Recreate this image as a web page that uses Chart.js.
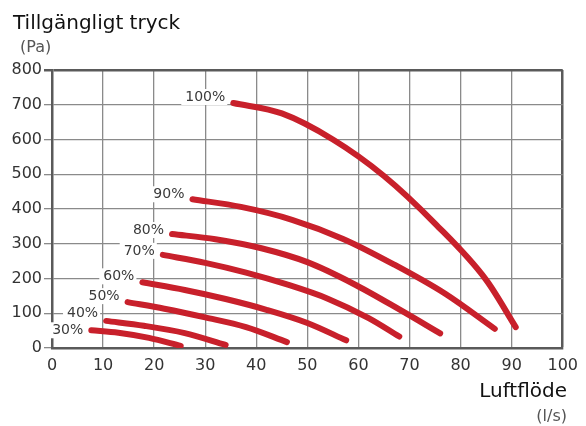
<!DOCTYPE html>
<html>
<head>
<meta charset="utf-8">
<script src="https://cdn.jsdelivr.net/npm/chart.js@4"></script>
<style>
  html, body { margin: 0; padding: 0; background: #fff; }
  #wrap { width: 586px; height: 426px; }
</style>
</head>
<body>
<div id="wrap"><canvas id="chart" width="586" height="426"></canvas></div>
<script>
// Kurvor: luftflöde (l/s) och tillgängligt tryck (Pa) per fläkthastighet
const speedLabels = ["30%", "40%", "50%", "60%", "70%", "80%", "90%", "100%"];

const flow30 = [7.7, 13, 19, 25.2];
const pres30 = [51, 44, 29, 6];
const flow40 = [10.6, 18, 26, 34];
const pres40 = [78, 64, 43, 9];
const flow50 = [14.8, 22, 30, 38, 46];
const pres50 = [132, 113, 88, 60, 17];
const flow60 = [17.7, 26, 34, 42, 50, 57.6];
const pres60 = [189, 167, 141, 110, 72, 22];
const flow70 = [21.7, 30, 38, 46, 54, 62, 68];
const pres70 = [268, 245, 217, 183, 142, 86, 33];
const flow80 = [23.5, 32, 41, 50, 59, 68, 76];
const pres80 = [328, 313, 287, 247, 185, 111, 42];
const flow90 = [27.5, 37, 47, 57, 67, 77, 86.7];
const pres90 = [428, 406, 369, 314, 240, 156, 55];
const flow100 = [35.5, 45, 55, 65, 75, 85, 90.8];
const pres100 = [705, 675, 600, 495, 358, 196, 60];

const xTicks = [0, 10, 20, 30, 40, 50, 60, 70, 80, 90, 100];
const yTicks = [0, 100, 200, 300, 400, 500, 600, 700, 800];

const flows = [flow30, flow40, flow50, flow60, flow70, flow80, flow90, flow100];
const pressures = [pres30, pres40, pres50, pres60, pres70, pres80, pres90, pres100];

// förskjutning av etiketten i höjdled (px)
const labelLift = [0, 8, 6, 6, 4, 4, 5, 6];

const FONT = "'DejaVu Sans', sans-serif";
const RED = "#c8202b";

const datasets = speedLabels.map((lbl, i) => ({
  label: lbl,
  data: flows[i].map((x, j) => ({ x: x, y: pressures[i][j] })),
  borderColor: RED,
  borderWidth: 6,
  borderCapStyle: "round",
  borderJoinStyle: "round",
  cubicInterpolationMode: "monotone",
  pointRadius: 0,
  fill: false,
}));

// Etiketter vid kurvornas början samt axeltitlar
const curveLabels = {
  id: "curveLabels",
  afterDatasetsDraw(chart) {
    const ctx = chart.ctx;
    ctx.save();
    ctx.font = "14px " + FONT;
    ctx.textAlign = "right";
    ctx.textBaseline = "middle";
    chart.data.datasets.forEach((ds, i) => {
      const pt = chart.getDatasetMeta(i).data[0];
      const tx = pt.x - 8;
      const ty = pt.y - labelLift[i];
      const w = ctx.measureText(ds.label).width;
      ctx.fillStyle = "#fff";
      ctx.fillRect(tx - w - 4, ty - 8, w + 6, 16);
      ctx.fillStyle = "#3a3a3a";
      ctx.fillText(ds.label, tx, ty);
    });
    ctx.restore();
  },
  afterDraw(chart) {
    const ctx = chart.ctx;
    ctx.save();
    ctx.textBaseline = "alphabetic";
    ctx.fillStyle = "#111";
    ctx.font = "20px " + FONT;
    ctx.textAlign = "left";
    ctx.fillText("Tillgängligt tryck", 13, 29);
    ctx.fillStyle = "#555";
    ctx.font = "16px " + FONT;
    ctx.fillText("(Pa)", 20, 52);
    ctx.fillStyle = "#111";
    ctx.font = "20px " + FONT;
    ctx.textAlign = "right";
    ctx.fillText("Luftflöde", 567, 397);
    ctx.fillStyle = "#555";
    ctx.font = "16px " + FONT;
    ctx.fillText("(l/s)", 567, 421);
    ctx.restore();
  },
};

new Chart(document.getElementById("chart"), {
  type: "line",
  data: { datasets: datasets },
  options: {
    responsive: false,
    animation: false,
    layout: { padding: { top: 70, right: 20, left: 0, bottom: 0 } },
    plugins: { legend: { display: false }, tooltip: { enabled: false } },
    scales: {
      x: {
        type: "linear",
        min: 0,
        max: 100,
        afterBuildTicks: (s) => { s.ticks = xTicks.map((v) => ({ value: v })); },
        afterFit: (s) => { s.height = 78; },
        grid: {
          color: (c) => (c.tick && c.tick.value === 100 ? "#5a5a5a" : "#8a8a8a"),
          lineWidth: (c) => (c.tick && c.tick.value === 100 ? 2.5 : 1.3),
          drawTicks: false,
          tickLength: 0,
        },
        border: { display: true, color: "#5a5a5a", width: 2.5 },
        ticks: { padding: 8, color: "#333", font: { family: FONT, size: 16 } },
      },
      y: {
        type: "linear",
        min: 0,
        max: 800,
        afterBuildTicks: (s) => { s.ticks = yTicks.map((v) => ({ value: v })); },
        afterFit: (s) => { s.width = 52; },
        grid: {
          color: (c) => (c.tick && c.tick.value === 800 ? "#5a5a5a" : "#8a8a8a"),
          lineWidth: (c) => (c.tick && c.tick.value === 800 ? 2.5 : 1.3),
          drawTicks: true,
          tickLength: 8,
        },
        border: { display: true, color: "#5a5a5a", width: 2.5 },
        ticks: { padding: 2, color: "#333", font: { family: FONT, size: 16 } },
      },
    },
  },
  plugins: [curveLabels],
});
</script>
</body>
</html>
